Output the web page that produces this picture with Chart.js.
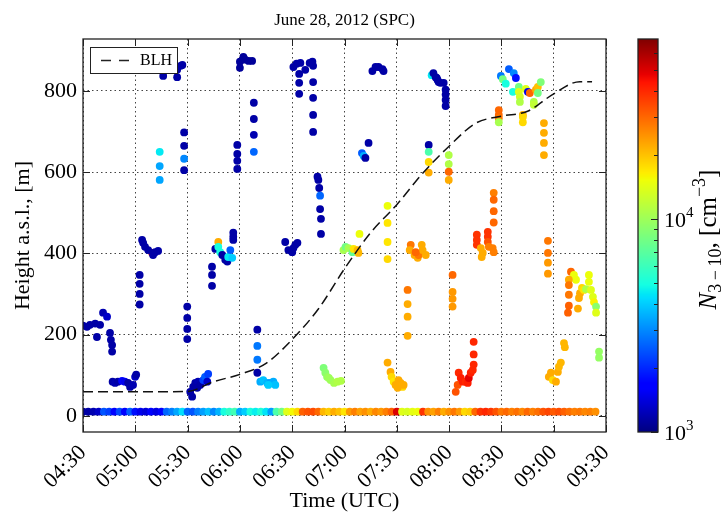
<!DOCTYPE html>
<html>
<head>
<meta charset="utf-8">
<script src="https://cdn.jsdelivr.net/npm/chart.js@4.4.0/dist/chart.umd.min.js"></script>
<style>html,body{margin:0;padding:0;background:#fff}canvas{display:block}</style>
</head>
<body>
<canvas id="chart" width="726" height="517"></canvas>
<script>
// x values are minutes after midnight (UTC)
const xTicks = [270, 300, 330, 360, 390, 420, 450, 480, 510, 540, 570];
const yTicks = [0, 200, 400, 600, 800];
const cbMinor = [2000, 3000, 4000, 5000, 6000, 7000, 8000, 9000, 20000, 30000, 40000, 50000, 60000];
const cbMajor = [1000, 10000];

// boundary layer height
const blhTime = [270, 300, 330, 345, 360, 375, 390, 405, 420, 435, 450, 465, 480, 495, 510, 525, 540, 555, 562];
const blhHeight = [59, 59, 60, 84, 102, 129, 188, 263, 362, 451, 520, 598, 664, 720, 738, 750, 793, 823, 823];

// ground station, drawn as a row of dots at ~10 m
const bandTime = [270, 273, 276, 279, 282, 285, 288, 291, 294, 297, 300, 303, 306, 309, 312, 315, 318, 321, 324, 327,
  330, 333, 336, 339, 342, 345, 348, 351, 354, 357, 360, 363, 366, 369, 372, 375, 378, 381, 384, 387,
  390, 393, 396, 399, 402, 405, 408, 411, 414, 417, 420, 423, 426, 429, 432, 435, 438, 441, 444, 447,
  450, 453, 456, 459, 462, 465, 468, 471, 474, 477, 480, 483, 486, 489, 492, 495, 498, 501, 504, 507,
  510, 513, 516, 519, 522, 525, 528, 531, 534, 537, 540, 543, 546, 549, 552, 555, 558, 561, 564];
const bandConc = [1100, 1150, 1200, 1300, 2400, 2200, 1700, 2300, 1600, 2500, 1800, 1500, 1400, 1600, 1450, 1700, 2600, 2900, 3400, 4300,
  2600, 2400, 2900, 3300, 3800, 3000, 3600, 5000, 5600, 6200, 3500, 4000, 5000, 4600, 5200, 4400, 3300, 6500, 8000, 14000,
  15500, 18000, 31000, 33000, 34000, 30000, 21000, 19000, 22000, 20000, 17000, 24000, 27000, 23000, 25000, 22000, 26000, 24000, 27000, 31000,
  50000, 14000, 13500, 14500, 15000, 38000, 25000, 23000, 27000, 22000, 25000, 28000, 24000, 18000, 19000, 30000, 38000, 40000, 37000, 33000,
  28000, 30000, 27000, 29000, 26000, 30000, 27000, 29000, 33000, 35000, 32000, 34000, 31000, 29000, 27000, 28000, 26000, 27000, 25000];
const bandHeight = 10;

// airborne measurements: time, height, N3-10
const pointTime = [
  270, 272.3, 274, 277, 278, 279.8, 281.5, 283.8, 285.5, 286, 286.7, 286.7,
  287, 288.4, 290, 292.4, 294, 295.9, 297, 298.7, 299.9, 300.5,
  302.5, 302.5, 302.5, 302.5,
  309.7, 303.9, 304.5, 305.6, 307.4, 311.4, 313.1, 310.2,
  314, 314, 314,
  316, 324, 324, 326, 327,
  328, 328, 328, 328,
  329.8, 329.8, 329.8, 329.8,
  332.6, 331.5, 333.2, 334.4, 336, 337.2, 339, 340, 341.8, 341.3, 335.5,
  344, 344, 344,
  345.9, 347.6, 347.6, 348.7, 349.9, 351.6, 352.8, 353.3, 354.5, 355.6, 356.2, 356.2, 356.2,
  358.5, 358.5, 358.5, 358.5,
  360, 360, 362, 363, 365, 367,
  368, 368, 368, 368,
  370, 370, 370, 370,
  371.7, 373.4, 375.7, 377.5, 379.2, 380.3, 376.3,
  386, 387.8, 390, 391.8, 393, 390.7,
  390.7, 392.5, 394.7, 397.5, 400, 401.6, 402,
  394, 394, 394,
  402, 402, 402, 402,
  404.5, 405, 405.5, 406, 406, 406.5, 406.5,
  408, 409, 410, 412, 414, 416, 418, 411,
  419.4, 420.6, 422.3, 424.6, 425.2, 427.5, 428, 428.6,
  430, 431, 432, 433.8,
  436, 437.8, 439.5, 441.8, 442.4,
  444.7, 444.7, 444.7, 444.7,
  444.7, 446.4, 447, 448.2, 449.3, 451, 452.2, 453.3, 453.9, 450.5,
  456.2, 456.2, 456.2, 456.2,
  458, 457.4, 460.2, 462, 462.5, 464.3, 464.8, 466.6, 460.8,
  468.3, 468.3, 468.3, 468.3,
  470, 471, 472.3, 473.4, 474, 475, 476.9, 472.9,
  478, 478, 478, 478,
  479.8, 479.8, 479.8, 479.8,
  482, 482, 482, 482,
  484.9, 483.8, 485.5, 486.7, 487.8, 489.5, 490.7, 491.3, 492.4, 493.6, 494.1, 494.1, 494.1,
  495.9, 495.9, 495.9, 498.2, 499.3, 498.7, 502.2, 502.2, 502.2, 502.8, 505, 505.6,
  505.6, 505.6, 505.6, 505.6,
  508.5, 508.5, 508.5, 508.5,
  509.7, 510.8, 512.5, 514.3, 517.1, 518.3, 516.6, 520, 520, 520.6, 520.6, 524, 525.2, 526.3, 528.6, 528.6, 529.8, 530.9, 530.9, 532.6,
  522.3, 522.3, 522.3,
  534.4, 534.4, 534.4, 534.4,
  536.7, 536.7, 536.7, 536.7,
  537.2, 538.4, 539.5, 541.3, 542.4, 543, 544.1, 545.9, 546.4,
  549.9, 551.6, 552.8, 548.7, 548.7, 548.7, 548.7, 548.2, 553.9, 554.5, 555.1, 556.2, 557.4, 558.5, 560.2, 560.2, 561.4, 562.5, 563.1, 564.3, 564.3,
  566, 566
];
const pointHeight = [
  222, 219, 224, 227, 194, 224, 254, 244, 204, 187, 174, 158,
  84, 81, 84, 86, 84, 81, 71, 76, 96, 101,
  347, 325, 300, 274,
  401, 433, 426, 416, 408, 403, 406, 396,
  650, 615, 581,
  837, 834, 852, 862, 864,
  698, 665, 633, 605,
  269, 241, 214, 189,
  47, 59, 71, 81, 84, 76, 88, 96, 103, 84, 69,
  367, 347, 320,
  411, 428, 416, 403, 396, 384, 380, 391, 408, 389, 433, 441, 451,
  667, 645, 628, 608,
  857, 872, 884, 877, 874, 874,
  771, 731, 692, 650,
  212, 172, 138, 106,
  84, 88, 81, 81, 84, 76, 76,
  428, 408, 403, 421, 426, 413,
  859, 867, 869, 852, 869, 872, 862,
  842, 820, 793,
  822, 783, 741, 699,
  589, 581, 561, 542, 509, 485, 448,
  118, 106, 96, 88, 81, 84, 86, 93,
  408, 416, 413, 403, 411, 408, 401, 448,
  647, 640, 635, 672,
  849, 859, 859, 854, 849,
  517, 475, 428, 386,
  131, 108, 96, 84, 76, 88, 81, 71, 76, 69,
  310, 275, 244, 197,
  421, 408, 396, 389, 396, 421, 408, 396, 403,
  667, 650, 625, 599,
  839, 844, 834, 827, 822, 820, 820, 832,
  803, 791, 778, 763,
  642, 620, 601, 581,
  347, 305, 288, 269,
  76, 59, 106, 93, 84, 84, 81, 93, 106, 113, 126, 151, 182,
  446, 433, 421, 413, 401, 391, 453, 441, 428, 416, 413, 403,
  549, 532, 504, 476,
  753, 741, 733, 723,
  837, 829, 818, 854, 844, 832, 798, 810, 798, 786, 773, 805, 798, 795, 773, 766, 803, 810, 795, 822,
  741, 736, 723,
  721, 697, 672, 642,
  431, 401, 377, 350,
  96, 106, 88, 84, 108, 121, 131, 179, 169,
  355, 347, 335, 335, 322, 298, 271, 254, 264, 290, 302, 315, 310, 312, 347, 330, 310, 293, 280, 269, 254,
  158, 143
];
const pointConc = [
  1150, 1150, 1150, 1150, 1150, 1150, 1200, 1300, 1150, 1150, 1150, 1150,
  1150, 1200, 1150, 1700, 1500, 1150, 1150, 1200, 1300, 1150,
  1150, 1150, 1150, 1150,
  55000, 1150, 1150, 1150, 1150, 1150, 1150, 1150,
  4500, 3400, 3400,
  1150, 1150, 1150, 1150, 1150,
  1150, 1150, 3000, 1150,
  1150, 1150, 1150, 1150,
  1150, 1150, 1150, 1150, 1200, 1150, 2200, 2500, 2200, 1300, 1150,
  1150, 1150, 1150,
  1150, 22000, 5000, 5000, 1150, 1150, 1150, 4500, 2500, 4000, 1150, 1150, 1150,
  1150, 1150, 1150, 1150,
  1100, 1100, 1100, 1100, 1100, 1100,
  1150, 1150, 1200, 2600,
  1150, 2800, 2800, 1150,
  3500, 3800, 3600, 3300, 3500, 3800, 4000,
  1150, 1150, 1150, 1150, 1150, 1150,
  1150, 1150, 1150, 1150, 1150, 1150, 1150,
  1150, 1150, 1150,
  1150, 1150, 1150, 1150,
  1150, 1150, 1150, 2600, 1150, 1150, 1150,
  8500, 9000, 9500, 10000, 10500, 11000, 11000, 10000,
  10500, 8000, 10500, 7500, 17000, 21000, 21000, 15000,
  2500, 3500, 1150, 1150,
  1150, 1150, 1150, 1150, 1150,
  15000, 17000, 17000, 18000,
  22000, 22000, 18000, 17000, 22000, 22000, 22000, 18000, 22000, 22000,
  28000, 22000, 22000, 22000,
  28000, 22000, 22000, 22000, 28000, 22000, 22000, 22000, 30000,
  1150, 6500, 18000, 22000,
  4500, 1150, 1150, 1150, 1150, 1150, 1150, 1150,
  1150, 1150, 1150, 1150,
  11000, 11000, 30000, 22000,
  30000, 24000, 24000, 24000,
  33000, 33000, 40000, 42000, 42000, 40000, 42000, 48000, 42000, 40000, 40000, 40000, 40000,
  38000, 38000, 38000, 22000, 22000, 22000, 38000, 38000, 33000, 27000, 27000, 27000,
  27000, 30000, 30000, 30000,
  30000, 30000, 28000, 10500,
  2800, 8000, 5000, 2500, 3000, 1800, 5000, 8000, 14000, 13000, 11000, 14000, 1500, 30000, 11000, 12000, 22000, 20000, 8000, 8500,
  22000, 18000, 18000,
  22000, 22000, 22000, 22000,
  28000, 28000, 24000, 24000,
  22000, 22000, 18000, 22000, 22000, 21000, 21000, 21000, 21000,
  30000, 15000, 15000, 22000, 28000, 28000, 31000, 31000, 22000, 22000, 22000, 18000, 17000, 11000, 15000, 15000, 14000, 14000, 16000, 9000, 14000,
  9500, 9500
];

const cMin = 1000, cMax = 70000;
const FONT = "'Liberation Serif', 'DejaVu Serif', serif";

function jetPart(pts, t) {
    for (let i = 1; i < pts.length; i++) {
        if (t <= pts[i][0]) {
            const [x0, y0] = pts[i - 1], [x1, y1] = pts[i];
            return y0 + (y1 - y0) * (t - x0) / (x1 - x0);
        }
    }
    return pts[pts.length - 1][1];
}
function jet(t) {
    t = Math.min(1, Math.max(0, t));
    const r = jetPart([[0, 0], [0.35, 0], [0.66, 1], [0.89, 1], [1, 0.5]], t);
    const g = jetPart([[0, 0], [0.125, 0], [0.375, 1], [0.64, 1], [0.91, 0], [1, 0]], t);
    const b = jetPart([[0, 0.5], [0.11, 1], [0.34, 1], [0.65, 0], [1, 0]], t);
    return `rgb(${Math.round(r * 255)},${Math.round(g * 255)},${Math.round(b * 255)})`;
}
function norm(v) {
    return (Math.log10(v) - Math.log10(cMin)) / (Math.log10(cMax) - Math.log10(cMin));
}
function hhmm(m) {
    const h = Math.floor(m / 60), mm = m % 60;
    return String(h).padStart(2, '0') + ':' + String(mm).padStart(2, '0');
}

const blhData = blhTime.map((t, i) => ({ x: t, y: blhHeight[i] }));
const bandData = bandTime.map((t, i) => ({ x: t, y: bandHeight, c: bandConc[i] }));
const pointData = pointTime.map((t, i) => ({ x: t, y: pointHeight[i], c: pointConc[i] }));

// draws text pieces in a row: [text, font, dy]
function drawRich(ctx, parts, x, y) {
    let cx = x;
    parts.forEach(([txt, font, dy]) => {
        ctx.font = font;
        ctx.fillText(txt, cx, y + dy);
        cx += ctx.measureText(txt).width;
    });
    return cx - x;
}
function richWidth(ctx, parts) {
    let w = 0;
    parts.forEach(([txt, font]) => { ctx.font = font; w += ctx.measureText(txt).width; });
    return w;
}

const decorPlugin = {
    id: 'decor',
    afterDatasetsDraw(chart) {
        const { ctx, chartArea: a, scales: { x, y } } = chart;
        ctx.save();
        // inward tick marks on all four sides
        ctx.strokeStyle = '#222';
        ctx.lineWidth = 1;
        ctx.beginPath();
        xTicks.forEach(v => {
            const px = Math.round(x.getPixelForValue(v)) + 0.5;
            ctx.moveTo(px, a.bottom); ctx.lineTo(px, a.bottom - 7);
            ctx.moveTo(px, a.top); ctx.lineTo(px, a.top + 7);
        });
        yTicks.forEach(v => {
            const py = Math.round(y.getPixelForValue(v)) + 0.5;
            ctx.moveTo(a.left, py); ctx.lineTo(a.left + 7, py);
            ctx.moveTo(a.right, py); ctx.lineTo(a.right - 7, py);
        });
        ctx.stroke();
        // frame
        ctx.lineWidth = 1.3;
        ctx.strokeRect(a.left, a.top, a.right - a.left, a.bottom - a.top);

        // legend
        const lx = a.left + 7, ly = a.top + 8, lw = 87, lh = 26;
        ctx.fillStyle = '#fff';
        ctx.fillRect(lx, ly, lw, lh);
        ctx.lineWidth = 1;
        ctx.strokeStyle = '#222';
        ctx.strokeRect(lx + 0.5, ly + 0.5, lw, lh);
        ctx.setLineDash([10, 8]);
        ctx.lineWidth = 1.5;
        ctx.beginPath();
        ctx.moveTo(lx + 11, ly + lh / 2 + 0.5);
        ctx.lineTo(lx + 41, ly + lh / 2 + 0.5);
        ctx.stroke();
        ctx.setLineDash([]);
        ctx.fillStyle = '#000';
        ctx.font = `16px ${FONT}`;
        ctx.textBaseline = 'middle';
        ctx.fillText('BLH', lx + 50, ly + lh / 2 + 1);
        ctx.restore();
    },
    afterDraw(chart) {
        const { ctx, chartArea: a } = chart;
        ctx.save();
        // title
        ctx.fillStyle = '#000';
        ctx.font = `17px ${FONT}`;
        ctx.textAlign = 'center';
        ctx.textBaseline = 'middle';
        ctx.fillText('June 28, 2012 (SPC)', (a.left + a.right) / 2, 21);

        // colorbar
        const cbL = a.right + 32, cbW = 20, cbT = a.top, cbB = a.bottom;
        const cbY = v => cbB - norm(v) * (cbB - cbT);
        for (let py = cbT; py < cbB; py++) {
            ctx.fillStyle = jet((cbB - py - 0.5) / (cbB - cbT));
            ctx.fillRect(cbL, py, cbW, 1);
        }
        ctx.strokeStyle = '#222';
        ctx.lineWidth = 1;
        ctx.beginPath();
        cbMinor.forEach(v => {
            const py = Math.round(cbY(v)) + 0.5;
            ctx.moveTo(cbL + cbW, py); ctx.lineTo(cbL + cbW - 4, py);
        });
        cbMajor.forEach(v => {
            const py = Math.round(cbY(v)) + 0.5;
            ctx.moveTo(cbL + cbW, py); ctx.lineTo(cbL + cbW - 7, py);
        });
        ctx.stroke();
        ctx.lineWidth = 1.3;
        ctx.strokeRect(cbL, cbT, cbW, cbB - cbT);

        // colorbar tick labels 10^3, 10^4
        ctx.fillStyle = '#000';
        ctx.textAlign = 'left';
        ctx.textBaseline = 'middle';
        cbMajor.forEach(v => {
            const py = cbY(v);
            const ex = String(Math.round(Math.log10(v)));
            drawRich(ctx, [['10', `22px ${FONT}`, 2], [ex, `15px ${FONT}`, -6]], cbL + cbW + 6, py);
        });

        // colorbar label
        const parts = [
            ['N', `italic 25px ${FONT}`, 0],
            ['3\u2009\u2212\u200910', `18px ${FONT}`, 7],
            [', [cm', `25px ${FONT}`, 0],
            ['\u22123', `18px ${FONT}`, -9],
            [']', `25px ${FONT}`, 0]
        ];
        ctx.translate(a.right + 103, (a.top + a.bottom) / 2 + 4);
        ctx.rotate(-Math.PI / 2);
        ctx.textBaseline = 'middle';
        const w = richWidth(ctx, parts);
        drawRich(ctx, parts, -w / 2, 0);
        ctx.restore();
    }
};

new Chart(document.getElementById('chart'), {
    type: 'scatter',
    data: {
        datasets: [
            {
                type: 'line',
                label: 'BLH',
                data: blhData,
                borderColor: '#111',
                borderWidth: 1.5,
                borderDash: [10, 5],
                pointRadius: 0,
                fill: false,
                cubicInterpolationMode: 'monotone'
            },
            {
                label: 'airborne',
                data: pointData,
                pointRadius: 3.9,
                borderWidth: 0,
                backgroundColor: c => c.raw ? jet(norm(c.raw.c)) : '#000'
            },
            {
                label: 'ground',
                data: bandData,
                pointRadius: 3.9,
                borderWidth: 0,
                backgroundColor: c => c.raw ? jet(norm(c.raw.c)) : '#000'
            }
        ]
    },
    options: {
        responsive: false,
        devicePixelRatio: 1,
        animation: false,
        events: [],
        layout: { padding: { left: 0, top: 39, right: 120, bottom: 0 } },
        plugins: { legend: { display: false }, title: { display: false }, tooltip: { enabled: false } },
        scales: {
            x: {
                type: 'linear',
                min: 270,
                max: 570,
                afterBuildTicks: s => { s.ticks = xTicks.map(v => ({ value: v })); },
                afterFit: s => { s.height = 85; },
                grid: { color: '#444', lineWidth: 1, drawTicks: false },
                border: { display: false, dash: [1.5, 3] },
                ticks: {
                    autoSkip: false,
                    minRotation: 45,
                    maxRotation: 45,
                    padding: 8,
                    color: '#000',
                    font: { family: FONT, size: 22 },
                    callback: v => hhmm(v)
                },
                title: { display: true, text: 'Time (UTC)', color: '#000', font: { family: FONT, size: 22 }, padding: { top: 0, bottom: 3 } }
            },
            y: {
                type: 'linear',
                min: -40,
                max: 928,
                afterBuildTicks: s => { s.ticks = yTicks.map(v => ({ value: v })); },
                afterFit: s => { s.width = 83; },
                grid: { color: '#444', lineWidth: 1, drawTicks: false },
                border: { display: false, dash: [1.5, 3] },
                ticks: {
                    padding: 6,
                    color: '#000',
                    font: { family: FONT, size: 22 }
                },
                title: { display: true, text: 'Height a.s.l., [m]', color: '#000', font: { family: FONT, size: 22 }, padding: { top: 10, bottom: 0 } }
            }
        }
    },
    plugins: [decorPlugin]
});
</script>
</body>
</html>
